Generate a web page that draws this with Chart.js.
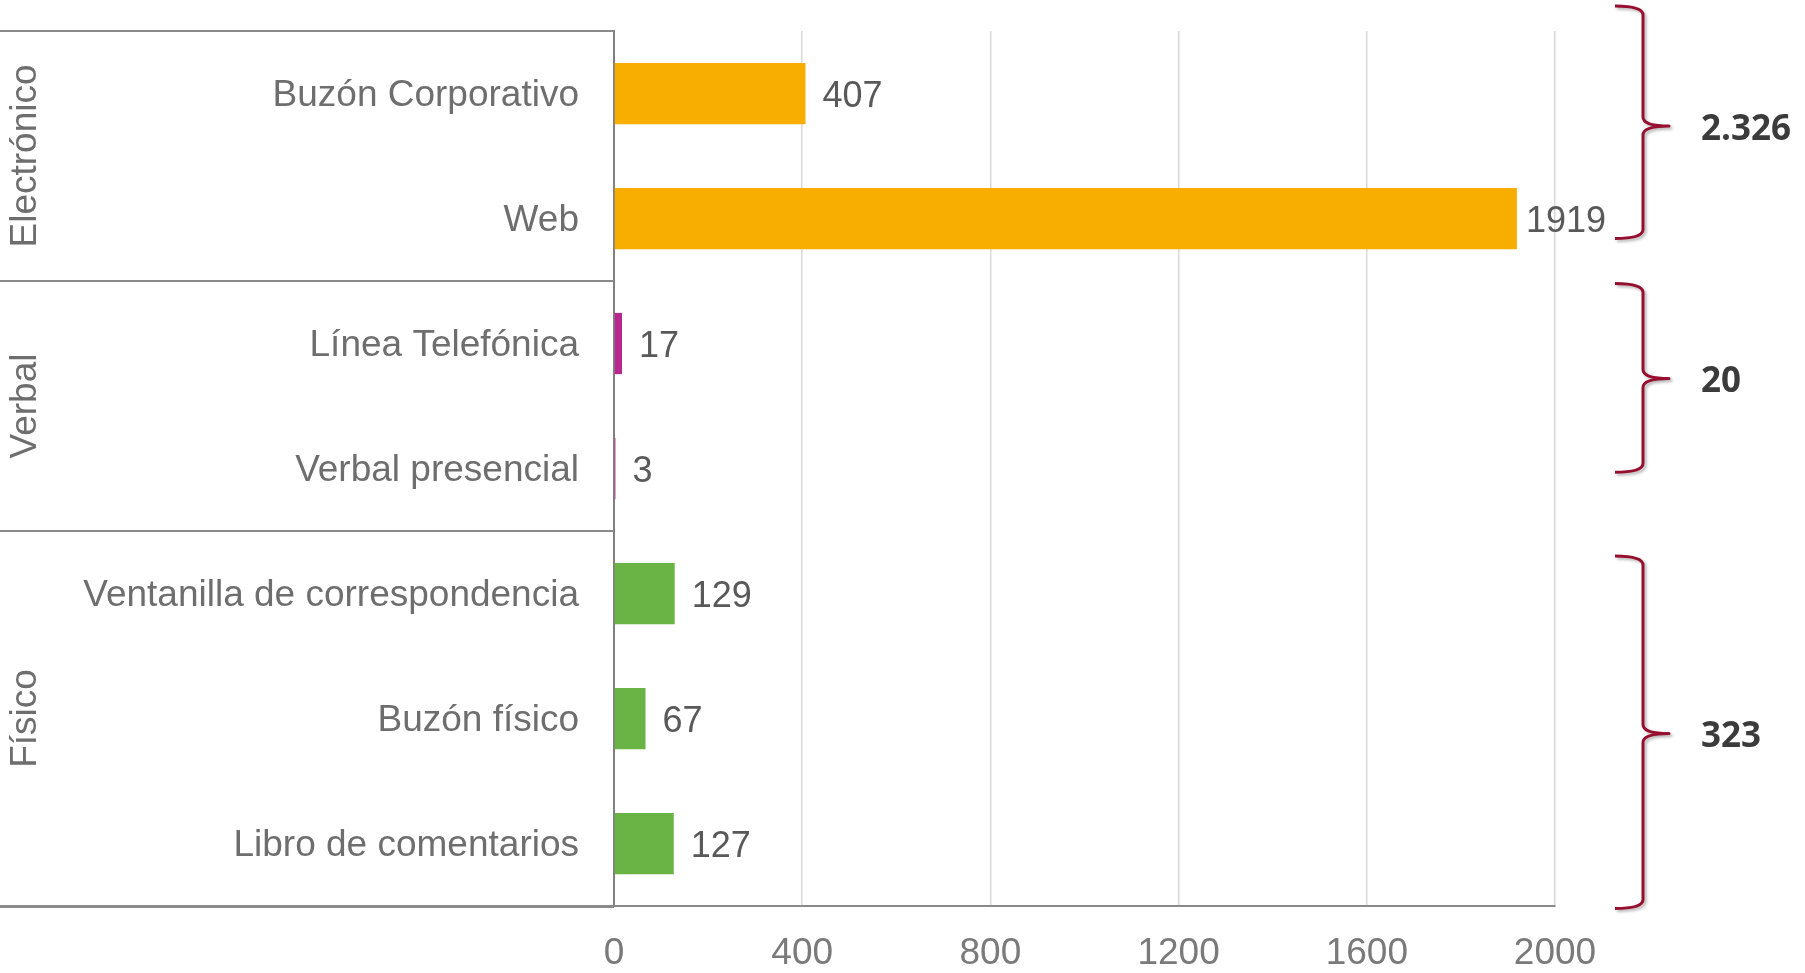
<!DOCTYPE html>
<html lang="es">
<head>
<meta charset="utf-8">
<title>Canales de recepción</title>
<script src="https://cdn.jsdelivr.net/npm/chart.js@4.4.1/dist/chart.umd.min.js"></script>
<style>
    html, body { margin: 0; padding: 0; background: #ffffff; }
    #chartWrap { width: 1805px; height: 973px; }
</style>
</head>
<body>
<div id="chartWrap"><canvas id="canalesChart" width="1805" height="973"></canvas></div>
<script>
// ===========================
// Data
// ===========================

const categories = [
    'Buzón Corporativo',
    'Web',
    'Línea Telefónica',
    'Verbal presencial',
    'Ventanilla de correspondencia',
    'Buzón físico',
    'Libro de comentarios'
];
const values = [407, 1919, 17, 3, 129, 67, 127];

const groupNames = ['Electrónico', 'Verbal', 'Físico'];
const groupSizes = [2, 2, 3];
const groupColors = ['#F7AE00', '#B8268F', '#6AB446'];

const xTicks = [0, 400, 800, 1200, 1600, 2000];

// brace spans on the right, in category units: [from, to, tip]
const braceSpans = [[-0.7, 1.16, 0.26], [1.52, 3.03, 2.28], [3.7, 6.52, 5.12]];

// ===========================
// Helpers
// ===========================

const FONT = "'Liberation Sans', Arial, sans-serif";

function groupRanges() {
    const ranges = [];
    let start = 0;
    groupSizes.forEach(size => {
        ranges.push({ start: start, end: start + size - 1 });
        start += size;
    });
    return ranges;
}

function barColors() {
    const colors = [];
    groupSizes.forEach((size, g) => {
        for (let i = 0; i < size; i++) colors.push(groupColors[g]);
    });
    return colors;
}

function formatThousands(n) {
    return String(n).replace(/\B(?=(\d{3})+(?!\d))/g, '.');
}

// ===========================
// Plugins
// ===========================

// table lines and rotated group names left of the bars
const groupTablePlugin = {
    id: 'groupTable',
    afterDraw(chart) {
        const ctx = chart.ctx;
        const yScale = chart.scales.y;
        const area = chart.chartArea;
        const ranges = groupRanges();

        ctx.save();
        ctx.strokeStyle = '#8a8a8a';
        ctx.lineWidth = 2;
        ctx.beginPath();
        const top = Math.round(yScale.getPixelForValue(-0.5));
        ctx.moveTo(0, top);
        ctx.lineTo(area.left, top);
        ranges.forEach(r => {
            const y = Math.round(yScale.getPixelForValue(r.end + 0.5));
            ctx.moveTo(0, y);
            ctx.lineTo(area.left, y);
        });
        ctx.stroke();

        ctx.fillStyle = '#6e6e6e';
        ctx.font = '37px ' + FONT;
        ctx.textAlign = 'center';
        ctx.textBaseline = 'middle';
        ranges.forEach((r, g) => {
            const cy = (yScale.getPixelForValue(r.start - 0.5) + yScale.getPixelForValue(r.end + 0.5)) / 2;
            ctx.save();
            ctx.translate(26, cy);
            ctx.rotate(-Math.PI / 2);
            ctx.fillText(groupNames[g], 0, 0);
            ctx.restore();
        });
        ctx.restore();
    }
};

// value labels at the end of each bar
const valueLabelsPlugin = {
    id: 'valueLabels',
    afterDatasetsDraw(chart) {
        const ctx = chart.ctx;
        const area = chart.chartArea;
        const meta = chart.getDatasetMeta(0);

        ctx.save();
        ctx.fillStyle = '#595959';
        ctx.font = '36px ' + FONT;
        ctx.textAlign = 'left';
        ctx.textBaseline = 'middle';
        meta.data.forEach((bar, i) => {
            const text = String(values[i]);
            const w = ctx.measureText(text).width;
            const x = Math.min(bar.x + 17, area.right + 51 - w);
            ctx.fillText(text, x, bar.y + 4);
        });
        ctx.restore();
    }
};

// curly braces with group totals
const bracesPlugin = {
    id: 'braces',
    afterDraw(chart) {
        const ctx = chart.ctx;
        const yScale = chart.scales.y;
        const right = chart.chartArea.right;
        const ranges = groupRanges();

        const xEnd = right + 60;
        const xSpine = right + 88;
        const xTip = right + 114;
        const r = 9;

        ctx.save();
        braceSpans.forEach((span, g) => {
            const top = yScale.getPixelForValue(span[0]);
            const bottom = yScale.getPixelForValue(span[1]);
            const mid = yScale.getPixelForValue(span[2]);

            ctx.save();
            ctx.shadowColor = 'rgba(0, 0, 0, 0.3)';
            ctx.shadowBlur = 3;
            ctx.shadowOffsetX = 2;
            ctx.shadowOffsetY = 2;
            ctx.strokeStyle = '#970F2E';
            ctx.lineWidth = 3;
            ctx.lineJoin = 'round';
            ctx.beginPath();
            ctx.moveTo(xEnd, top);
            ctx.quadraticCurveTo(xSpine, top, xSpine, top + r);
            ctx.lineTo(xSpine, mid - r);
            ctx.quadraticCurveTo(xSpine, mid, xTip, mid);
            ctx.quadraticCurveTo(xSpine, mid, xSpine, mid + r);
            ctx.lineTo(xSpine, bottom - r);
            ctx.quadraticCurveTo(xSpine, bottom, xEnd, bottom);
            ctx.stroke();
            ctx.restore();

            let total = 0;
            for (let i = ranges[g].start; i <= ranges[g].end; i++) total += values[i];

            ctx.fillStyle = '#3b3b3b';
            ctx.font = "bold 35px 'Open Sans', 'DejaVu Sans', sans-serif";
            ctx.textAlign = 'left';
            ctx.textBaseline = 'middle';
            ctx.fillText(formatThousands(total), right + 146, mid + 4);
        });
        ctx.restore();
    }
};

// extend the bottom axis line under the label table
const baseLinePlugin = {
    id: 'baseLine',
    afterDraw(chart) {
        const ctx = chart.ctx;
        const area = chart.chartArea;
        ctx.save();
        ctx.strokeStyle = '#8a8a8a';
        ctx.lineWidth = 2;
        ctx.beginPath();
        ctx.moveTo(0, area.bottom + 1);
        ctx.lineTo(area.left, area.bottom + 1);
        ctx.stroke();
        ctx.restore();
    }
};

// ===========================
// Chart
// ===========================

let canalesChart;

function initializeChart() {
    const ctx = document.getElementById('canalesChart');
    if (!ctx) return;

    canalesChart = new Chart(ctx, {
        type: 'bar',
        data: {
            labels: categories,
            datasets: [{
                data: values,
                backgroundColor: barColors(),
                borderWidth: 0,
                categoryPercentage: 1,
                barPercentage: 0.49
            }]
        },
        options: {
            indexAxis: 'y',
            responsive: false,
            animation: false,
            layout: {
                padding: { top: 31, right: 250, bottom: 0, left: 0 }
            },
            plugins: {
                legend: { display: false },
                tooltip: { enabled: false },
                title: { display: false }
            },
            scales: {
                x: {
                    min: xTicks[0],
                    max: xTicks[xTicks.length - 1],
                    afterBuildTicks(scale) {
                        scale.ticks = xTicks.map(v => ({ value: v }));
                    },
                    afterFit(scale) {
                        scale.height = 67;
                    },
                    ticks: {
                        color: '#7a7a7a',
                        font: { family: FONT, size: 37 },
                        padding: 26,
                        maxRotation: 0,
                        callback: value => String(value)
                    },
                    grid: {
                        color: '#d9d9d9',
                        lineWidth: 1.5,
                        drawTicks: false
                    },
                    border: {
                        color: '#8a8a8a',
                        width: 2
                    }
                },
                y: {
                    afterFit(scale) {
                        scale.width = 614;
                        scale.paddingTop = 0;
                        scale.paddingBottom = 0;
                    },
                    ticks: {
                        color: '#6e6e6e',
                        font: { family: FONT, size: 37 },
                        padding: 35,
                        labelOffset: 2
                    },
                    grid: {
                        display: false,
                        drawTicks: false
                    },
                    border: {
                        color: '#808080',
                        width: 2
                    }
                }
            }
        },
        plugins: [groupTablePlugin, valueLabelsPlugin, bracesPlugin, baseLinePlugin]
    });
}

document.addEventListener('DOMContentLoaded', initializeChart);
</script>
</body>
</html>
